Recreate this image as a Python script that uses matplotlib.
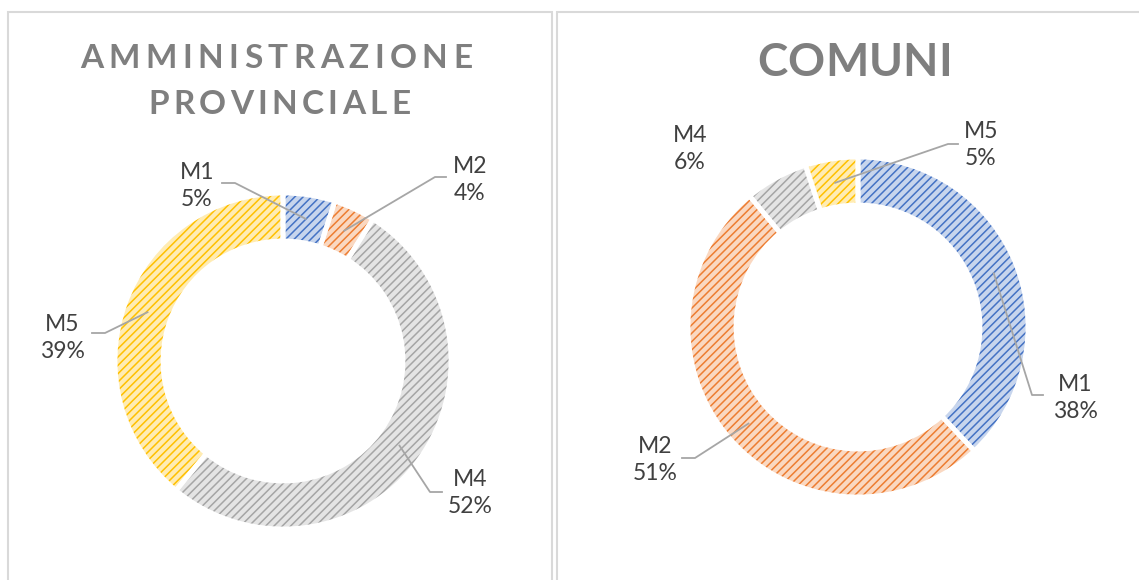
import numpy as np
import matplotlib.pyplot as plt
from matplotlib.patches import Rectangle
from matplotlib.colors import to_rgb

W, H = 1139, 580

# data
categories_prov = ['M1', 'M2', 'M4', 'M5']
values_prov = [5, 4, 52, 39]
categories_com = ['M1', 'M2', 'M4', 'M5']
values_com = [38, 51, 6, 5]

base_colors = {'M1': '#4472C4', 'M2': '#ED7D31', 'M4': '#A5A5A5', 'M5': '#FFC000'}

plt.rcParams['font.family'] = ['Lato', 'DejaVu Sans']
plt.rcParams['hatch.linewidth'] = 1.1

fig = plt.figure(figsize=(W / 100, H / 100), dpi=100)
ax = fig.add_axes([0, 0, 1, 1])
renderer = fig.canvas.get_renderer()


def fy(y):
    # pixel row (from top) -> data y
    return H - y


def tint(c, k=0.7):
    r, g, b = to_rgb(c)
    return (r + (1 - r) * k, g + (1 - g) * k, b + (1 - b) * k)


def spaced_text(s, x0, x1, y, size):
    widths = []
    for ch in s:
        t = ax.text(0, 0, ch, fontsize=size, fontweight='bold')
        widths.append(t.get_window_extent(renderer).width)
        t.remove()
    gap = ((x1 - x0) - sum(widths)) / (len(s) - 1)
    x = x0
    for ch, w in zip(s, widths):
        ax.text(x, fy(y), ch, fontsize=size, fontweight='bold', color='#7F7F7F',
                ha='left', va='center')
        x += w + gap


def donut(cats, vals, cx, cy, radius, width, labels):
    cols = [base_colors[c] for c in cats]
    wedges, _ = ax.pie(vals, colors=[tint(c) for c in cols], startangle=90,
                       counterclock=False, radius=radius, center=(cx, fy(cy)),
                       wedgeprops=dict(width=width, linewidth=0))
    for w, c in zip(wedges, cols):
        w.set_edgecolor(c)
        w.set_linewidth(0)
        w.set_hatch('////')
    ax.pie(vals, startangle=90, counterclock=False, radius=radius,
           center=(cx, fy(cy)),
           wedgeprops=dict(width=width, fill=False, edgecolor='white', linewidth=3.5))
    total = sum(vals)
    cum = 0
    r_mid = radius - width / 2
    for cat, v, lab in zip(cats, vals, labels):
        theta = np.deg2rad(360 * (cum + v / 2) / total)
        cum += v
        ax_x = cx + r_mid * np.sin(theta)
        ax_y = fy(cy) + r_mid * np.cos(theta)
        tx, ty, lead = lab
        ax.text(tx, fy(ty), f'{cat}\n{v}%', fontsize=16.5, color='#404040',
                ha='center', va='center', linespacing=1.4)
        if lead is not None:
            lx, ly, d = lead
            ax.plot([lx, lx + d, ax_x], [fy(ly), fy(ly), ax_y],
                    color='#A6A6A6', lw=1.3, zorder=3)


# panels
for x0, x1 in [(8, 552), (557, 1160)]:
    ax.add_patch(Rectangle((x0, -10), x1 - x0, fy(12) + 10, facecolor='white',
                           edgecolor='#D9D9D9', lw=1.5, zorder=0))

# label layout: text centre, leader (start x, y, elbow length)
labels_prov = [(197, 186, (222, 183, 13)),
               (470, 180, (446, 177, -11)),
               (470, 493, (442, 492, -12)),
               (62, 338, (92, 333, 13))]
labels_com = [(1075, 398, (1043, 395, -11)),
              (655, 460, (682, 458, 13)),
              (690, 149, None),
              (981, 145, (958, 144, -10))]

donut(categories_prov, values_prov, 283, 361, 168, 48, labels_prov)
donut(categories_com, values_com, 858, 327, 170, 48, labels_com)

spaced_text('AMMINISTRAZIONE', 80, 472, 58, 24)
spaced_text('PROVINCIALE', 148, 410, 105, 24)
spaced_text('COMUNI', 757, 952, 63, 33)

ax.set_aspect('auto')
ax.set_xlim(0, W)
ax.set_ylim(0, H)
ax.axis('off')

fig.savefig('out.png', dpi=100)
